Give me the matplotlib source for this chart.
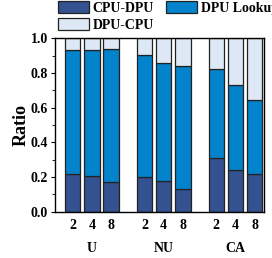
import matplotlib
matplotlib.use('Agg')
import matplotlib.pyplot as plt
from matplotlib.ticker import MultipleLocator
import numpy as np

# data
groups = ['U', 'NU', 'CA']
sizes = ['2', '4', '8']
cpu_dpu = [0.22, 0.205, 0.17, 0.20, 0.18, 0.133, 0.31, 0.24, 0.215]
dpu_lookup_top = [0.93, 0.93, 0.935, 0.905, 0.855, 0.84, 0.823, 0.728, 0.642]
total = [1.0] * 9

COLORS = ['#34528F', '#0283CC', '#DDE8F4']
LABELS = ['CPU-DPU', 'DPU Lookup', 'DPU-CPU']

plt.rcParams['font.family'] = 'Liberation Serif'
plt.rcParams['font.weight'] = 'bold'
plt.rcParams['axes.labelweight'] = 'bold'

cpu_dpu = np.array(cpu_dpu)
lookup = np.array(dpu_lookup_top) - cpu_dpu
dpu_cpu = np.array(total) - np.array(dpu_lookup_top)

pos = []
for g in range(len(groups)):
    for s in range(len(sizes)):
        pos.append(g * 3.75 + s)
pos = np.array(pos)

fig = plt.figure(figsize=(2.72, 2.58), dpi=100)
ax = fig.add_axes([0.202, 0.179, 0.769, 0.673])

w = 0.81
kw = dict(width=w, edgecolor='#222222', linewidth=0.9)
b1 = ax.bar(pos, cpu_dpu, color=COLORS[0], label=LABELS[0], **kw)
b2 = ax.bar(pos, lookup, bottom=cpu_dpu, color=COLORS[1], label=LABELS[1], **kw)
b3 = ax.bar(pos, dpu_cpu, bottom=cpu_dpu + lookup, color=COLORS[2], label=LABELS[2], **kw)

ax.set_xlim(-0.93, 10.0)
ax.set_ylim(0, 1.0)
ax.yaxis.set_major_locator(MultipleLocator(0.2))
ax.yaxis.set_minor_locator(MultipleLocator(0.1))
ax.set_yticklabels([f'{v:.1f}' for v in ax.get_yticks()], fontsize=10, fontweight='bold')
ax.set_xticks(pos)
ax.set_xticklabels(sizes * len(groups), fontsize=10, fontweight='bold')
ax.tick_params(axis='x', length=0, pad=5)
ax.tick_params(axis='y', which='major', length=3, width=0.8, pad=2)
ax.tick_params(axis='y', which='minor', length=2, width=0.6)
ax.set_ylabel('Ratio', fontsize=13, fontweight='bold', labelpad=1)

for g, name in enumerate(groups):
    ax.text(pos[g * 3 + 1], -0.21, name, transform=ax.get_xaxis_transform(),
            ha='center', va='center', fontsize=10, fontweight='bold')

for sp in ax.spines.values():
    sp.set_linewidth(1.0)

# row-major order: CPU-DPU, DPU Lookup / DPU-CPU
fig.legend(handles=[b1, b3, b2], labels=[LABELS[0], LABELS[2], LABELS[1]],
           ncol=2, loc='upper left',
           bbox_to_anchor=(58 / 272, 1 - 1 / 258), frameon=False,
           borderpad=0, borderaxespad=0, handlelength=2.2, handleheight=0.95,
           handletextpad=0.3, columnspacing=0.9, labelspacing=0.25,
           prop={'family': 'Liberation Serif', 'weight': 'bold', 'size': 10})

fig.savefig('out.png', dpi=100)
